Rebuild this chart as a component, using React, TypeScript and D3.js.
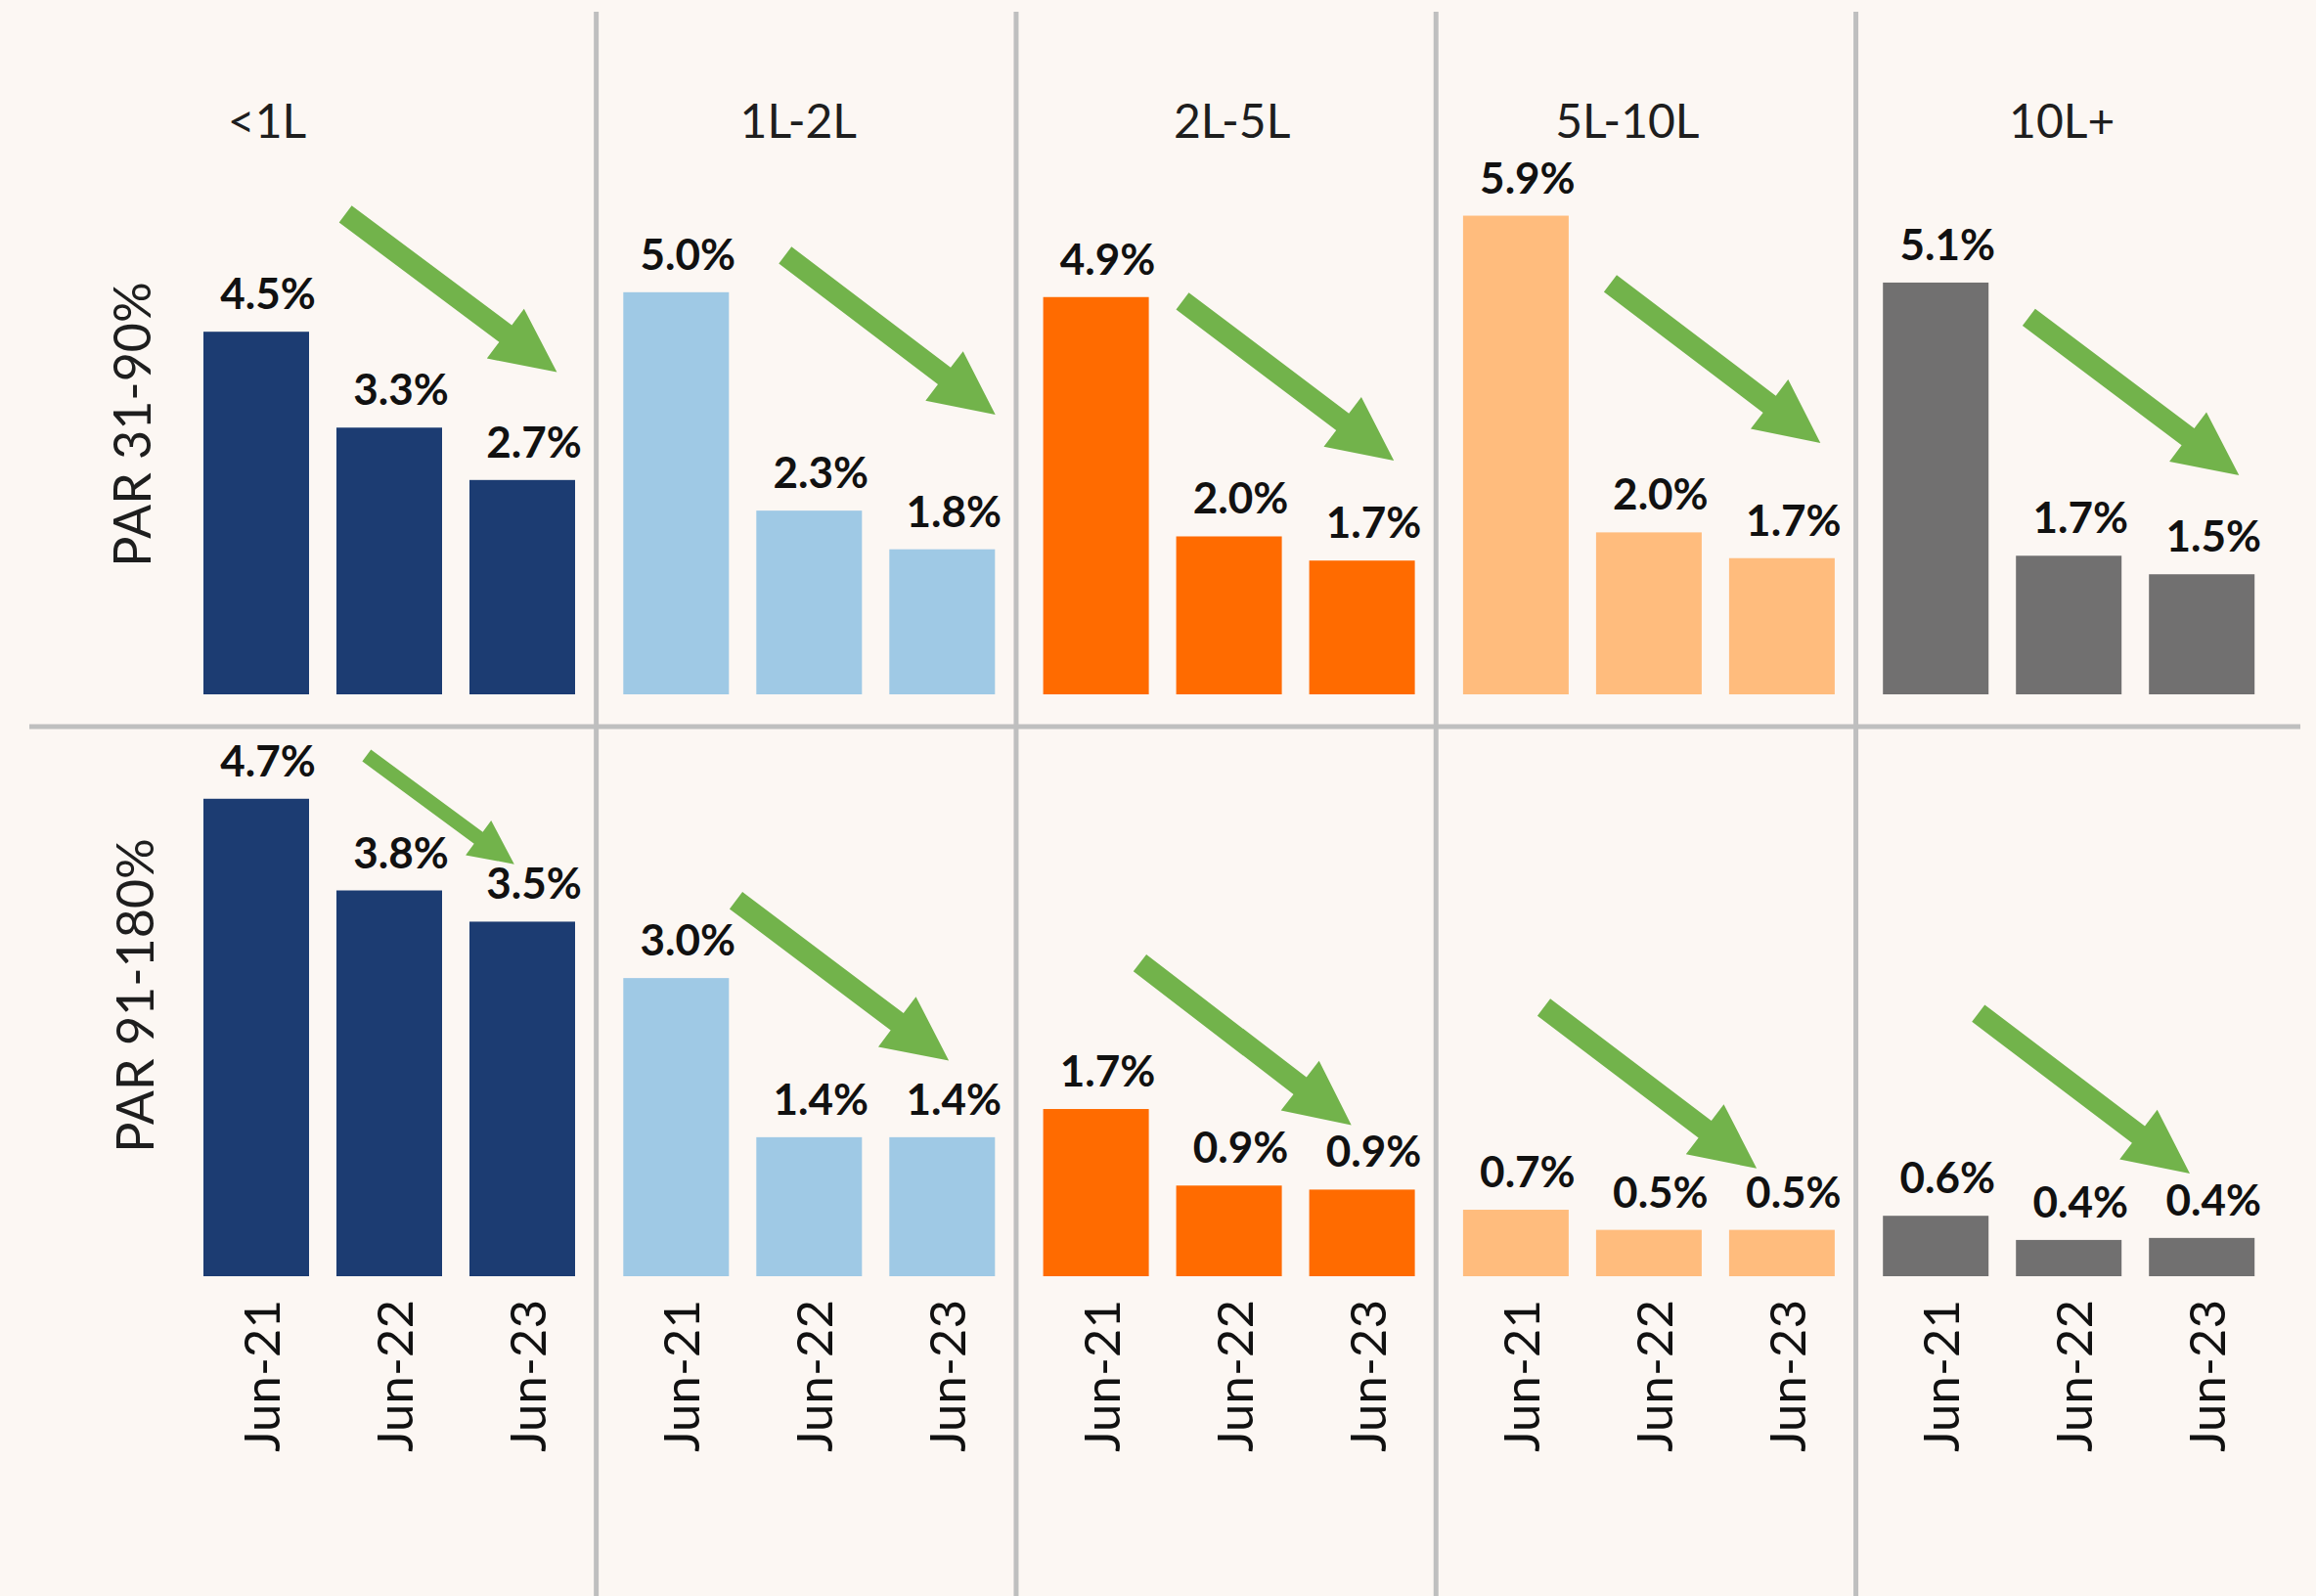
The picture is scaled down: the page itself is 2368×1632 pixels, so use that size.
import React from 'react';
import * as d3 from 'd3';

const W = 2368;
const H = 1632;

const groups = ['<1L', '1L-2L', '2L-5L', '5L-10L', '10L+'];
const periods = ['Jun-21', 'Jun-22', 'Jun-23'];
const rowTitles = ['PAR 31-90%', 'PAR 91-180%'];
const groupColors = ['#1C3C72', '#9FC9E5', '#FF6B00', '#FFBC7D', '#717070'];

// PAR 31-90% (%), per size group, Jun-21 / Jun-22 / Jun-23
const par31to90 = [
  [4.5, 3.31, 2.66],
  [4.99, 2.28, 1.8],
  [4.93, 1.96, 1.66],
  [5.94, 2.01, 1.69],
  [5.11, 1.72, 1.49],
];
// PAR 91-180% (%), per size group, Jun-21 / Jun-22 / Jun-23
const par91to180 = [
  [4.74, 3.83, 3.52],
  [2.96, 1.38, 1.38],
  [1.66, 0.9, 0.86],
  [0.66, 0.46, 0.46],
  [0.6, 0.36, 0.38],
];

// trend arrows: [fromBarIndex, fromValue, toBarIndex, toValue]
const arrowsTop = [
  [0.67, 5.96, 2.26, 4.0],
  [0.82, 5.45, 2.4, 3.47],
  [0.65, 4.88, 2.24, 2.9],
  [0.71, 5.1, 2.29, 3.12],
  [0.7, 4.68, 2.28, 2.72],
];
const arrowsBottom = [
  [0.83, 5.17, 1.94, 4.09],
  [0.45, 3.73, 2.05, 2.14],
  [0.33, 3.11, 1.92, 1.5],
  [0.21, 2.67, 1.81, 1.07],
  [0.32, 2.61, 1.91, 1.02],
];

const headerDx = [-125, -11, 3, -22, -7];

const FONT = 'Lato, "Open Sans", sans-serif';
const fmt = d3.format('.1f');

function arrowPath(x1: number, y1: number, x2: number, y2: number) {
  const dx = x2 - x1;
  const dy = y2 - y1;
  const L = Math.hypot(dx, dy);
  const ux = dx / L;
  const uy = dy / L;
  const nx = -uy;
  const ny = ux;
  const s = 0.04 * L;
  const h = 0.1175 * L;
  const hl = 0.243 * L;
  const bx = x2 - ux * hl;
  const by = y2 - uy * hl;
  const pts = [
    [x1 + nx * s, y1 + ny * s],
    [bx + nx * s, by + ny * s],
    [bx + nx * h, by + ny * h],
    [x2, y2],
    [bx - nx * h, by - ny * h],
    [bx - nx * s, by - ny * s],
    [x1 - nx * s, y1 - ny * s],
  ];
  return 'M' + pts.map((p) => p[0].toFixed(1) + ',' + p[1].toFixed(1)).join('L') + 'Z';
}

export default function App() {
  const panel = d3.scaleBand<string>().domain(groups).range([183.35, 2329.85]).paddingInner(0).paddingOuter(0);
  const yTop = d3.scaleLinear().domain([0, 7]).range([710, 710 - 7 * 82.4]);
  const yBot = d3.scaleLinear().domain([0, 6]).range([1305, 1305 - 6 * 103]);

  const rows = [
    { data: par31to90, y: yTop, arrows: arrowsTop },
    { data: par91to180, y: yBot, arrows: arrowsBottom },
  ];

  const panelCenter = (g: string) => (panel(g) as number) + panel.bandwidth() / 2;
  const inner = (g: string) => {
    const c = panelCenter(g);
    return d3.scaleBand<string>().domain(periods).range([c - 204, c + 204]).paddingInner(0.2059).paddingOuter(0.10295);
  };
  const idxScale = (g: string) => {
    const c = panelCenter(g);
    return d3.scaleLinear().domain([0, 2]).range([c - 136, c + 136]);
  };

  return (
    <svg width={W} height={H} style={{ position: 'absolute', left: 0, top: 0, display: 'block' }}>
      <rect x={0} y={0} width={W} height={H} fill="#FCF7F3" />
      {/* grid separators */}
      <line x1={30} x2={2352} y1={743} y2={743} stroke="#BFBFBF" strokeWidth={5} />
      {groups.slice(1).map((g) => (
        <line key={g} x1={(panel(g) as number) - 3} x2={(panel(g) as number) - 3} y1={12} y2={H} stroke="#BFBFBF" strokeWidth={5} />
      ))}
      {/* headers */}
      {groups.map((g, i) => (
        <text key={g} x={panelCenter(g) + headerDx[i]} y={141} textAnchor="middle" fontFamily={FONT} fontSize={48} fill="#1E1E1E">
          {g}
        </text>
      ))}
      {/* row titles */}
      <text transform={`translate(154,434) rotate(-90)`} textAnchor="middle" fontFamily={FONT} fontSize={52} fill="#1E1E1E">
        {rowTitles[0]}
      </text>
      <text transform={`translate(157,1018) rotate(-90)`} textAnchor="middle" fontFamily={FONT} fontSize={52} fill="#1E1E1E">
        {rowTitles[1]}
      </text>
      {rows.map((row, ri) => (
        <g key={ri}>
          {groups.map((g, gi) => {
            const xb = inner(g);
            return (
              <g key={g}>
                {periods.map((p, pi) => {
                  const v = row.data[gi][pi];
                  const x0 = xb(p) as number;
                  const yv = row.y(v);
                  return (
                    <g key={p}>
                      <rect x={x0} y={yv} width={xb.bandwidth()} height={row.y(0) - yv} fill={groupColors[gi]} />
                      <text x={x0 + xb.bandwidth() / 2 + 12} y={yv - 23} textAnchor="middle" fontFamily={FONT} fontWeight={700} fontSize={44} fill="#111">
                        {fmt(v) + '%'}
                      </text>
                    </g>
                  );
                })}
              </g>
            );
          })}
          {groups.map((g, gi) => {
            const a = row.arrows[gi];
            const xi = idxScale(g);
            return <path key={'a' + g} d={arrowPath(xi(a[0]), row.y(a[1]), xi(a[2]), row.y(a[3]))} fill="#72B34B" />;
          })}
        </g>
      ))}
      {/* category tick labels */}
      {groups.map((g) => {
        const xb = inner(g);
        return periods.map((p) => {
          const cx = (xb(p) as number) + xb.bandwidth() / 2;
          return (
            <text key={g + p} transform={`translate(${cx + 24},1329) rotate(-90)`} textAnchor="end" fontFamily={FONT} fontSize={51} fill="#111">
              {p}
            </text>
          );
        });
      })}
    </svg>
  );
}
